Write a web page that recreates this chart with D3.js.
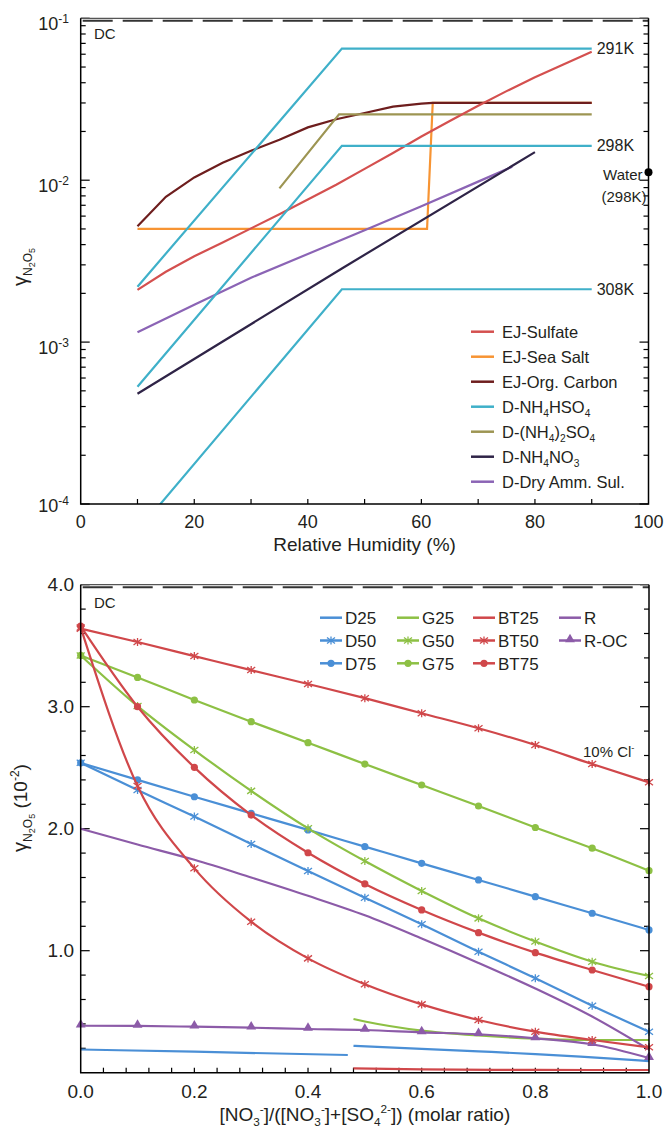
<!DOCTYPE html>
<html>
<head>
<meta charset="utf-8">
<title>gamma N2O5</title>
<script src="https://d3js.org/d3.v7.min.js"></script>
<style>
body { margin: 0; background: #fff; }
svg { font-family: "Liberation Sans", Arial, sans-serif; }
text { fill: #231f20; }
.frame { stroke: #000; stroke-width: 1.5; fill: none; }
.tick { stroke: #000; stroke-width: 1.2; }
</style>
</head>
<body>
<script>
// ---------- top panel: gamma vs relative humidity ----------
var ejSulfateRH = [10, 15, 20, 25, 30, 35, 40, 45, 50, 55, 60, 65, 70, 75, 80, 85, 90];
var ejSulfate   = [0.0021, 0.00272, 0.00339, 0.00412, 0.00504, 0.00617, 0.00759, 0.00938, 0.01175, 0.01472, 0.0186, 0.0232, 0.0288, 0.0355, 0.0432, 0.0519, 0.0621];
var ejSeaSaltRH = [10, 61, 62, 90];
var ejSeaSalt   = [0.005, 0.005, 0.030, 0.030];
var ejOrgCRH = [10, 15, 20, 25, 30, 35, 40, 45, 50, 55, 60, 62, 90];
var ejOrgC   = [0.0052, 0.0079, 0.0104, 0.0128, 0.0152, 0.0178, 0.0212, 0.0238, 0.026, 0.0285, 0.0297, 0.030, 0.030];
var bisulfRH  = [10, 46, 90];
var bisulf291 = [0.0022, 0.065, 0.065];
var bisulf298 = [0.00053, 0.0163, 0.0163];
var bisulf308 = [0.000068, 0.00212, 0.00212];
var amSulfRH = [35, 45.5, 90];
var amSulf   = [0.0089, 0.0255, 0.0255];
var amNitRH = [10, 46, 80];
var amNit   = [0.00048, 0.00285, 0.0149];
var dryRH = [10, 20, 30, 40, 50, 60, 70, 76];
var dry   = [0.00115, 0.0017, 0.0025, 0.0035, 0.0049, 0.0069, 0.0098, 0.0121];
var waterRH = 100, waterGamma = 0.0112;
var topLegend = ["EJ-Sulfate", "EJ-Sea Salt", "EJ-Org. Carbon", "D-NH_{4}HSO_{4}", "D-(NH_{4})_{2}SO_{4}", "D-NH_{4}NO_{3}", "D-Dry Amm. Sul."];
var rhTicks = [0, 20, 40, 60, 80, 100];
var gammaTicks = [1e-1, 1e-2, 1e-3, 1e-4];
var gammaTickLabels = ["-1", "-2", "-3", "-4"];

// ---------- bottom panel: gamma vs nitrate fraction ----------
var ratio = [0, 0.1, 0.2, 0.3, 0.4, 0.5, 0.6, 0.7, 0.8, 0.9, 1.0];
var d50   = [2.54, 2.317, 2.10, 1.875, 1.653, 1.434, 1.216, 0.992, 0.774, 0.549, 0.336];
var d75   = [2.54, 2.40, 2.262, 2.126, 1.99, 1.853, 1.716, 1.58, 1.443, 1.307, 1.17];
var g50   = [3.42, 3.005, 2.645, 2.31, 2.003, 1.735, 1.49, 1.265, 1.075, 0.91, 0.793];
var g75   = [3.42, 3.24, 3.055, 2.877, 2.705, 2.53, 2.358, 2.186, 2.01, 1.84, 1.656];
var bt50  = [3.65, 2.35, 1.675, 1.238, 0.937, 0.725, 0.56, 0.432, 0.336, 0.268, 0.208];
var bt50cl = [3.64, 3.53, 3.415, 3.30, 3.186, 3.07, 2.946, 2.823, 2.686, 2.53, 2.38];
var bt75  = [3.66, 3.0, 2.503, 2.112, 1.803, 1.547, 1.334, 1.148, 0.984, 0.842, 0.705];
var rPlain = [2.0, 1.87, 1.745, 1.6, 1.45, 1.29, 1.10, 0.90, 0.69, 0.46, 0.19];
var rOC   = [0.385, 0.383, 0.377, 0.369, 0.358, 0.35, 0.331, 0.315, 0.282, 0.233, 0.12];
var d25aX = [0, 0.2, 0.47];
var d25a  = [0.19, 0.172, 0.145];
var d25bX = [0.48, 0.6, 0.7, 0.8, 0.9, 1.0];
var d25b  = [0.22, 0.196, 0.175, 0.153, 0.125, 0.095];
var g25X  = [0.48, 0.5, 0.6, 0.7, 0.8, 0.9, 1.0];
var g25   = [0.44, 0.42, 0.345, 0.305, 0.28, 0.268, 0.268];
var bt25X = [0.48, 0.6, 0.8, 1.0];
var bt25  = [0.036, 0.027, 0.023, 0.022];
var botLegend = [["D25", "G25", "BT25", "R"], ["D50", "G50", "BT50", "R-OC"], ["D75", "G75", "BT75"]];
var ratioTicks = [0, 0.2, 0.4, 0.6, 0.8, 1.0];
var valTicks = [1, 2, 3, 4];

var colD = "#4a8fd6", colG = "#8dc044", colBT = "#d0474a", colR = "#8c5ba8";

var svg = d3.select("body").append("svg").attr("width", 665).attr("height", 1131);

// text with _{sub} and ^{sup} markup
function rich(t, str, fs) {
  var cur = 0;
  str.split(/(_\{[^}]*\}|\^\{[^}]*\})/).forEach(function(p) {
    if (!p) return;
    var target = 0, size = fs, s = p;
    if (p[0] == "_") { target = 0.28 * fs; size = 0.62 * fs; s = p.slice(2, -1); }
    else if (p[0] == "^") { target = -0.42 * fs; size = 0.62 * fs; s = p.slice(2, -1); }
    t.append("tspan").attr("dy", target - cur).style("font-size", size + "px").text(s);
    cur = target;
  });
}

function gammaTitle(g, x, y, withUnit) {
  var t = g.append("text").attr("transform", "translate(" + x + "," + y + ") rotate(-90)")
    .attr("text-anchor", "middle").style("font-size", "20px");
  t.append("tspan").text("\u03b3");
  t.append("tspan").attr("dy", 5).style("font-size", "12px").text("N");
  t.append("tspan").attr("dy", 3).style("font-size", "9px").text("2");
  t.append("tspan").attr("dy", -3).style("font-size", "12px").text("O");
  t.append("tspan").attr("dy", 3).style("font-size", "9px").text("5");
  if (withUnit) {
    t.append("tspan").attr("dy", -8).style("font-size", "19px").text(" (10");
    t.append("tspan").attr("dy", -8).style("font-size", "12px").text("-2");
    t.append("tspan").attr("dy", 8).style("font-size", "19px").text(")");
  }
}

function asterisk(s) {
  return "M0," + (-s) + "V" + s + "M" + (-s) + "," + (-s * 0.75) + "L" + s + "," + (s * 0.75) +
    "M" + (-s) + "," + (s * 0.75) + "L" + s + "," + (-s * 0.75);
}

// ================= TOP PANEL =================
var x1 = d3.scaleLinear().domain([0, 100]).range([80.7, 648.5]);
var y1 = d3.scaleLog().domain([1e-4, 1e-1]).range([504, 18.3]);
var gTop = svg.append("g");

gTop.append("clipPath").attr("id", "clipTop").append("rect")
  .attr("x", x1(0)).attr("y", y1(0.1)).attr("width", x1(100) - x1(0)).attr("height", y1(1e-4) - y1(0.1));

// minor / major ticks on y (left + right, inward)
var logTicks = [];
[1e-4, 1e-3, 1e-2].forEach(function(d) { for (var k = 1; k < 10; k++) logTicks.push(d * k); });
logTicks.push(0.1);
logTicks.forEach(function(v) {
  var major = Math.abs(Math.log10(v) - Math.round(Math.log10(v))) < 1e-6;
  var len = major ? 9 : 5;
  gTop.append("line").attr("class", "tick").attr("x1", x1(0)).attr("x2", x1(0) + len).attr("y1", y1(v)).attr("y2", y1(v));
  gTop.append("line").attr("class", "tick").attr("x1", x1(100)).attr("x2", x1(100) - len).attr("y1", y1(v)).attr("y2", y1(v));
});
d3.range(10, 100, 10).forEach(function(v) {
  gTop.append("line").attr("class", "tick").attr("x1", x1(v)).attr("x2", x1(v)).attr("y1", y1(1e-4)).attr("y2", y1(1e-4) - 5);
});

// lines
var line1 = d3.line().x(function(d) { return x1(d[0]); }).y(function(d) { return y1(d[1]); });
function zip(a, b) { return a.map(function(v, i) { return [v, b[i]]; }); }
var topSeries = [
  { xs: ejSeaSaltRH, ys: ejSeaSalt, c: "#f79433" },
  { xs: ejOrgCRH, ys: ejOrgC, c: "#6e1e1e" },
  { xs: amSulfRH, ys: amSulf, c: "#9d9553" },
  { xs: ejSulfateRH, ys: ejSulfate, c: "#d4504f" },
  { xs: dryRH, ys: dry, c: "#8b64b5" },
  { xs: amNitRH, ys: amNit, c: "#2f2447" },
  { xs: bisulfRH, ys: bisulf291, c: "#3fb0c9" },
  { xs: bisulfRH, ys: bisulf298, c: "#3fb0c9" },
  { xs: bisulfRH, ys: bisulf308, c: "#3fb0c9" }
];
var plotTop = gTop.append("g").attr("clip-path", "url(#clipTop)");
topSeries.forEach(function(s) {
  plotTop.append("path").attr("d", line1(zip(s.xs, s.ys))).attr("fill", "none")
    .attr("stroke", s.c).attr("stroke-width", 2.2);
});

// frame
gTop.append("line").attr("x1", x1(0)).attr("x2", x1(100)).attr("y1", y1(0.1)).attr("y2", y1(0.1)).attr("stroke", "#555").attr("stroke-width", 1.2);
gTop.append("line").attr("x1", x1(0) + 2).attr("x2", x1(100)).attr("y1", y1(0.1) + 2.5).attr("y2", y1(0.1) + 2.5)
  .attr("stroke", "#333").attr("stroke-width", 2).attr("stroke-dasharray", "30,10");
gTop.append("path").attr("class", "frame")
  .attr("d", "M" + x1(0) + "," + y1(0.1) + "V" + y1(1e-4) + "H" + x1(100) + "V" + y1(0.1));

// labels on curves
[["291K", 0.065], ["298K", 0.0163], ["308K", 0.00212]].forEach(function(d) {
  gTop.append("text").attr("x", x1(90) + 5).attr("y", y1(d[1]) + 5.5).style("font-size", "16px").text(d[0]);
});
gTop.append("circle").attr("cx", x1(waterRH)).attr("cy", y1(waterGamma)).attr("r", 4).attr("fill", "#000");
gTop.append("text").attr("x", x1(100) - 6).attr("y", y1(waterGamma) + 8).attr("text-anchor", "end").style("font-size", "15px").text("Water");
gTop.append("text").attr("x", x1(100) - 2).attr("y", y1(waterGamma) + 30).attr("text-anchor", "end").style("font-size", "15px").text("(298K)");
gTop.append("text").attr("x", 94).attr("y", 39).style("font-size", "15px").text("DC");

// tick labels
rhTicks.forEach(function(v) {
  gTop.append("text").attr("x", x1(v)).attr("y", 528).attr("text-anchor", "middle").style("font-size", "18px").text(v);
});
gammaTicks.forEach(function(v, i) {
  var t = gTop.append("text").attr("x", 69).attr("y", y1(v) + (i == 3 ? 8 : 12)).attr("text-anchor", "end").style("font-size", "18px");
  t.append("tspan").text("10");
  t.append("tspan").attr("dy", -7).style("font-size", "12px").text(gammaTickLabels[i]);
});
gTop.append("text").attr("x", (x1(0) + x1(100)) / 2).attr("y", 551).attr("text-anchor", "middle")
  .style("font-size", "19px").text("Relative Humidity (%)");
gammaTitle(gTop, 27, 267, false);

// legend
var topColors = ["#d4504f", "#f79433", "#6e1e1e", "#3fb0c9", "#9d9553", "#2f2447", "#8b64b5"];
topLegend.forEach(function(name, i) {
  var yy = 331.7 + 25 * i;
  gTop.append("line").attr("x1", 471).attr("x2", 494).attr("y1", yy).attr("y2", yy).attr("stroke", topColors[i]).attr("stroke-width", 2.5);
  var t = gTop.append("text").attr("x", 502).attr("y", yy + 6).style("font-size", "16.5px");
  rich(t, name, 16.5);
});

// ================= BOTTOM PANEL =================
var x2 = d3.scaleLinear().domain([0, 1]).range([80.7, 649]);
var y2 = d3.scaleLinear().domain([0, 4]).range([1072.7, 584.7]);
var bot = svg.append("g");

d3.range(0.2, 4.01, 0.2).forEach(function(v) {
  var major = Math.abs(v - Math.round(v)) < 1e-6;
  var len = major ? 9 : 5;
  bot.append("line").attr("class", "tick").attr("x1", x2(0)).attr("x2", x2(0) + len).attr("y1", y2(v)).attr("y2", y2(v));
  bot.append("line").attr("class", "tick").attr("x1", x2(1)).attr("x2", x2(1) - len).attr("y1", y2(v)).attr("y2", y2(v));
});
d3.range(0.04, 1.0, 0.04).forEach(function(v) {
  bot.append("line").attr("class", "tick").attr("x1", x2(v)).attr("x2", x2(v)).attr("y1", y2(0)).attr("y2", y2(0) - 5);
});

var line2 = d3.line().x(function(d) { return x2(d[0]); }).y(function(d) { return y2(d[1]); }).curve(d3.curveMonotoneX);
var botSeries = [
  { xs: d25aX, ys: d25a, c: colD },
  { xs: d25bX, ys: d25b, c: colD },
  { xs: g25X, ys: g25, c: colG },
  { xs: bt25X, ys: bt25, c: colBT },
  { xs: ratio, ys: rPlain, c: colR },
  { xs: ratio, ys: rOC, c: colR, m: "tri" },
  { xs: ratio, ys: d50, c: colD, m: "ast" },
  { xs: ratio, ys: d75, c: colD, m: "dot" },
  { xs: ratio, ys: g50, c: colG, m: "ast" },
  { xs: ratio, ys: g75, c: colG, m: "dot" },
  { xs: ratio, ys: bt50, c: colBT, m: "ast" },
  { xs: ratio, ys: bt75, c: colBT, m: "dot" },
  { xs: ratio, ys: bt50cl, c: colBT, m: "ast" }
];
var triSym = d3.symbol().type(d3.symbolTriangle).size(42);
function marker(g, kind, px, py, c) {
  if (kind == "dot") g.append("circle").attr("cx", px).attr("cy", py).attr("r", 3.6).attr("fill", c);
  else if (kind == "tri") g.append("path").attr("d", triSym()).attr("transform", "translate(" + px + "," + (py - 1) + ")").attr("fill", c);
  else if (kind == "ast") g.append("path").attr("d", asterisk(4)).attr("transform", "translate(" + px + "," + py + ")")
    .attr("stroke", c).attr("stroke-width", 1.3).attr("fill", "none");
}
botSeries.forEach(function(s) {
  var pts = zip(s.xs, s.ys);
  bot.append("path").attr("d", line2(pts)).attr("fill", "none").attr("stroke", s.c).attr("stroke-width", 2.2);
  if (s.m) pts.forEach(function(p) { marker(bot, s.m, x2(p[0]), y2(p[1]), s.c); });
});

// frame
bot.append("line").attr("x1", x2(0)).attr("x2", x2(1)).attr("y1", y2(4)).attr("y2", y2(4)).attr("stroke", "#555").attr("stroke-width", 1.2);
bot.append("line").attr("x1", x2(0) + 2).attr("x2", x2(1)).attr("y1", y2(4) + 2.5).attr("y2", y2(4) + 2.5)
  .attr("stroke", "#333").attr("stroke-width", 2).attr("stroke-dasharray", "30,10");
bot.append("path").attr("class", "frame")
  .attr("d", "M" + x2(0) + "," + y2(4) + "V" + y2(0) + "H" + x2(1) + "V" + y2(4));
bot.append("text").attr("x", 94).attr("y", 608).style("font-size", "15px").text("DC");
var cl = bot.append("text").attr("x", 583).attr("y", 757).style("font-size", "15px");
rich(cl, "10% Cl^{-}", 15);

// ticks labels
ratioTicks.forEach(function(v) {
  bot.append("text").attr("x", x2(v)).attr("y", 1097.5).attr("text-anchor", "middle").style("font-size", "19px").text(v.toFixed(1));
});
valTicks.forEach(function(v) {
  bot.append("text").attr("x", 74).attr("y", y2(v) + 6.5).attr("text-anchor", "end").style("font-size", "19px").text(v.toFixed(1));
});
var xt = bot.append("text").attr("x", (x2(0) + x2(1)) / 2).attr("y", 1121).attr("text-anchor", "middle").style("font-size", "19px");
rich(xt, "[NO_{3}^{-}]/([NO_{3}^{-}]+[SO_{4}^{2-}]) (molar ratio)", 19);
gammaTitle(bot, 27, 808, true);

// legend
var legX = [320, 397, 473, 559];
var legY = [617.7, 640.5, 663.3];
var legCol = [colD, colG, colBT, colR];
var legMark = [[null, null, null, null], ["ast", "ast", "ast", "tri"], ["dot", "dot", "dot"]];
botLegend.forEach(function(row, r) {
  row.forEach(function(name, c) {
    var lx = legX[c], ly = legY[r];
    bot.append("line").attr("x1", lx).attr("x2", lx + 22).attr("y1", ly).attr("y2", ly).attr("stroke", legCol[c]).attr("stroke-width", 2.5);
    if (legMark[r][c]) marker(bot, legMark[r][c], lx + 11, ly, legCol[c]);
    bot.append("text").attr("x", lx + 25).attr("y", ly + 6.5).style("font-size", "17px").text(name);
  });
});
</script>
</body>
</html>
